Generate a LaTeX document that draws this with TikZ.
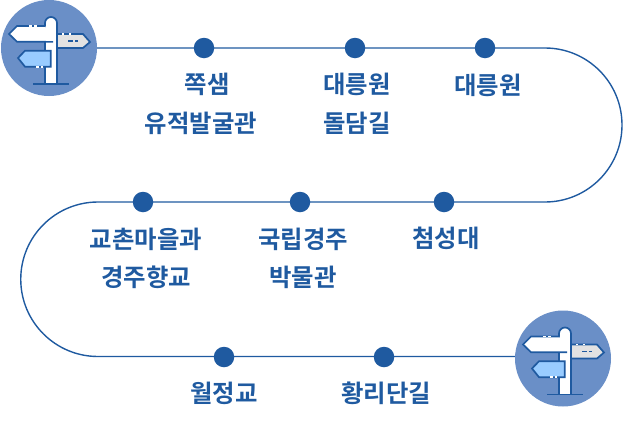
\documentclass[tikz,border=0pt]{standalone}
\usepackage{fontspec}
\setmainfont{Noto Sans CJK KR}[BoldFont={* Bold}]
\newfontfamily\krb{Noto Sans CJK KR Bold}
\usetikzlibrary{backgrounds}
\definecolor{routeblue}{HTML}{1F5AA0}
\definecolor{icondisc}{HTML}{6A8FC7}
\definecolor{signblue}{HTML}{99CCFF}
\definecolor{signgray}{HTML}{E2E2E2}
\tikzset{
  x=1pt,y=-1pt,
  routeline/.style={draw=routeblue,line width=1.4pt},
  stopdot/.style={circle,fill=routeblue,draw=none,minimum size=20.5pt,inner sep=0pt},
  icondiscnode/.style={circle,fill=icondisc,draw=none,minimum size=96pt,inner sep=0pt},
  stoplabel/.style={text=routeblue,align=center,inner sep=0pt,font=\krb\fontsize{24.4}{38.5}\selectfont},
  signline/.style={draw=routeblue,line width=1.7pt,line join=miter},
  signpost/.pic={
    \draw[signline,fill=signgray] (8,-14) -- (34,-14) -- (41,-6) -- (34,0) -- (8,0) -- cycle;
    \draw[signline,fill=white] (-4,36) -- (-4,-25) arc[start angle=180,end angle=0,radius=6pt] -- (8,36);
    \draw[signline,fill=white] (-4,-22) -- (-32,-22) -- (-40,-14) -- (-32,-6.3) -- (4,-6.3);
    \fill[white] (-3.2,-22.8) rectangle (7.2,-7.2);
    \draw[signline,fill=signblue] (1.7,2.7) -- (-24,2.7) -- (-31,10) -- (-24,18.7) -- (1.7,18.7) -- cycle;
    \draw[signline] (-16,36) -- (20,36);
    \draw[white,line width=1.7pt] (-20,-22) -- (-17,-22) (-15,-22) -- (-12,-22);
    \draw[white,line width=1.7pt] (13,-14) -- (15,-14) (20,-14) -- (22,-14);
    \draw[signline] (19,-7) -- (24,-7) (26,-7) -- (29,-7);
    \draw[white,line width=1.7pt] (-13,18.7) -- (-10,18.7) (-8,18.7) -- (-6,18.7);
  }
}
\begin{document}
\begin{tikzpicture}
\useasboundingbox (0,0) rectangle (631,434);
\node[icondiscnode] (start) at (49,48) {};
\node[icondiscnode] (finish) at (563,358.5) {};
\coordinate (turnA) at (545,48);
\coordinate (turnB) at (98,202);
\coordinate (rowC) at (98,356.5);
\begin{pgfonlayer}{background}
\draw[routeline] (start.center) -- (turnA) arc[start angle=90,end angle=-90,radius=77pt]
  -- (turnB) arc[start angle=90,end angle=270,radius=77.25pt] -- (rowC -| finish.center);
\end{pgfonlayer}
\pic at (start) {signpost};
\pic at (finish) {signpost};
\foreach \n/\x/\y in {a/204/48,b/355/48,c/485/48,d/143/202,e/300/202,f/444/202,g/224/357,h/384/357}
  \node[stopdot] (dot\n) at (\x,\y) {};
\node[stoplabel] (la) at (201,104) {\hspace*{12pt}쪽샘\\유적발굴관};
\node[stoplabel] (lb) at (357,104) {대릉원\\돌담길};
\node[stoplabel] (lc) at (488,85.5) {대릉원};
\node[stoplabel] (ld) at (146,258.5) {교촌마을과\\경주향교};
\node[stoplabel] (le) at (303,258.5) {국립경주\\박물관};
\node[stoplabel] (lf) at (446,238.5) {첨성대};
\node[stoplabel] (lg) at (224,393.5) {월정교};
\node[stoplabel] (lh) at (386,393.5) {황리단길};
\end{tikzpicture}
\end{document}
